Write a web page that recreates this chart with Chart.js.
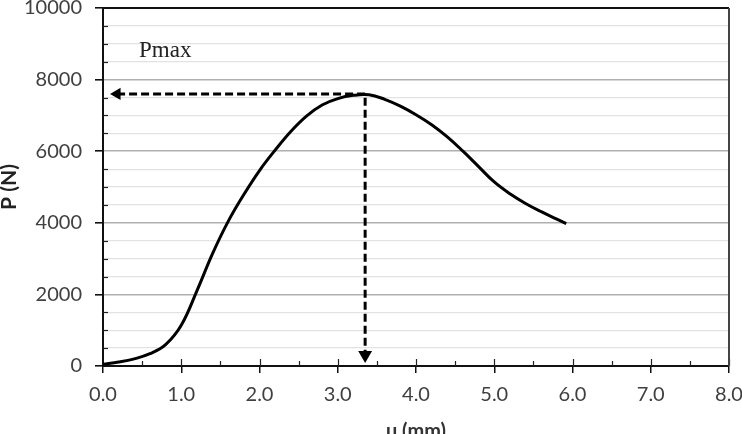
<!DOCTYPE html>
<html>
<head>
<meta charset="utf-8">
<script src="https://cdn.jsdelivr.net/npm/chart.js@4.4.1/dist/chart.umd.min.js"></script>
<style>
  html,body{margin:0;padding:0;background:#fff;}
  #wrap{width:742px;height:434px;position:relative;}
</style>
</head>
<body>
<div id="wrap"><canvas id="chart" width="742" height="434"></canvas></div>
<script>
// courbe charge / deplacement
const uVals = [0, 0.2, 0.4, 0.6, 0.8, 1.0, 1.2, 1.4, 1.6, 1.8, 2.0, 2.2, 2.4, 2.6, 2.8, 3.0, 3.2, 3.4, 3.6, 3.8, 4.0, 4.2, 4.4, 4.6, 4.8, 5.0, 5.2, 5.4, 5.6, 5.8, 5.92];
const pVals = [50, 110, 200, 345, 600, 1140, 2100, 3140, 4040, 4790, 5460, 6030, 6550, 6980, 7290, 7470, 7560, 7575, 7450, 7260, 7020, 6740, 6400, 6000, 5570, 5140, 4810, 4540, 4310, 4100, 3975];

// fleches Pmax (pointillés)
const arrowU = [0.18, 3.35, 3.35];
const arrowP = [7600, 7600, 310];
const headLeft = {x: 0.18, y: 7600};
const headDown = {x: 3.35, y: 310};

const xTicks = [0, 1, 2, 3, 4, 5, 6, 7, 8];
const yTicks = [0, 2000, 4000, 6000, 8000, 10000];
const pmaxLabel = {text: 'Pmax', u: 0.46, p: 8800};

const curve = uVals.map((u, i) => ({x: u, y: pVals[i]}));
const dashed = arrowU.map((u, i) => ({x: u, y: arrowP[i]}));

// bordure du cadre + petites graduations + texte Pmax
const framePlugin = {
  id: 'frame',
  afterDraw(chart){
    const {ctx, chartArea: a, scales: {x, y}} = chart;
    ctx.save();
    // graduations mineures en Y (vers l'intérieur)
    ctx.strokeStyle = '#222';
    ctx.lineWidth = 1.2;
    for(let v = 500; v < 10000; v += 500){
      if(v % 2000 === 0) continue;
      const py = Math.round(y.getPixelForValue(v)) + 0.5;
      ctx.beginPath(); ctx.moveTo(a.left, py); ctx.lineTo(a.left + 5, py); ctx.stroke();
    }
    // graduations en X au-dessus de l'axe
    for(let v = 0.5; v <= 8; v += 0.5){
      const px = Math.round(x.getPixelForValue(v)) + 0.5;
      const len = (v % 1 === 0) ? 7 : 5;
      ctx.beginPath(); ctx.moveTo(px, a.bottom); ctx.lineTo(px, a.bottom - len); ctx.stroke();
    }
    // cadre haut et droit
    ctx.strokeStyle = '#111';
    ctx.lineWidth = 2;
    ctx.beginPath(); ctx.moveTo(a.left, a.top); ctx.lineTo(a.right, a.top); ctx.stroke();
    ctx.strokeStyle = '#444';
    ctx.beginPath(); ctx.moveTo(a.right, a.top); ctx.lineTo(a.right, a.bottom); ctx.stroke();
    // texte Pmax
    ctx.fillStyle = '#222';
    ctx.font = '23px "Liberation Serif", "DejaVu Serif", serif';
    ctx.textBaseline = 'middle';
    ctx.textAlign = 'left';
    ctx.fillText(pmaxLabel.text, x.getPixelForValue(pmaxLabel.u), y.getPixelForValue(pmaxLabel.p));
    ctx.restore();
  }
};

const tickFont = {family: 'Lato, "Open Sans", sans-serif', size: 20};

new Chart(document.getElementById('chart'), {
  type: 'scatter',
  data: {
    datasets: [
      {data: curve, showLine: true, borderColor: '#000', borderWidth: 3, pointRadius: 0,
       tension: 0.4, order: 1},
      {data: dashed, showLine: true, borderColor: '#000', borderWidth: 3, borderDash: [8, 4],
       pointRadius: 0, tension: 0, order: 2},
      {data: [headLeft], pointStyle: 'triangle', rotation: -90, pointRadius: 7,
       backgroundColor: '#000', borderColor: '#000', borderWidth: 0, order: 0},
      {data: [headDown], pointStyle: 'triangle', rotation: 180, pointRadius: 8,
       backgroundColor: '#000', borderColor: '#000', borderWidth: 0, order: 0}
    ]
  },
  options: {
    responsive: false,
    animation: false,
    layout: {padding: {top: 7, right: 13, left: 0, bottom: 0}},
    plugins: {legend: {display: false}, tooltip: {enabled: false}},
    scales: {
      x: {
        type: 'linear', min: 0, max: 8,
        afterBuildTicks: s => { s.ticks = xTicks.map(v => ({value: v})); },
        afterFit: s => { s.height = 68; s.paddingLeft = 0; s.paddingRight = 0; },
        ticks: {font: tickFont, color: '#404040', padding: 10,
                callback: v => v.toFixed(1)},
        grid: {drawOnChartArea: false, tickLength: 7, tickColor: '#111', lineWidth: 1.5},
        border: {color: '#111', width: 2},
        title: {display: true, text: 'u (mm)', color: '#333',
                font: {family: 'Lato, "Open Sans", sans-serif', size: 20, weight: 'bold'},
                padding: {bottom: -10, top: 0}}
      },
      y: {
        type: 'linear', min: 0, max: 10000,
        afterBuildTicks: s => {
          const t = [];
          for(let v = 0; v <= 10000; v += 500) t.push({value: v});
          s.ticks = t;
        },
        afterFit: s => { s.width = 103; s.paddingTop = 0; s.paddingBottom = 0; },
        ticks: {font: tickFont, color: '#404040', padding: 13, autoSkip: false,
                callback: v => yTicks.includes(v) ? String(v) : ''},
        grid: {
          color: c => (c.tick && c.tick.value % 2000 === 0) ? '#b0b0b0' : '#e2e2e2',
          lineWidth: c => (c.tick && c.tick.value % 2000 === 0) ? 1.6 : 1.2,
          tickColor: c => (c.tick && c.tick.value % 2000 === 0) ? '#111' : 'rgba(0,0,0,0)',
          tickLength: 8
        },
        border: {color: '#111', width: 2},
        title: {display: true, text: 'P (N)', color: '#222',
                font: {family: 'Lato, "Open Sans", sans-serif', size: 21, weight: 'bold'},
                padding: {top: -3, bottom: 0}}
      }
    }
  },
  plugins: [framePlugin]
});
</script>
</body>
</html>
